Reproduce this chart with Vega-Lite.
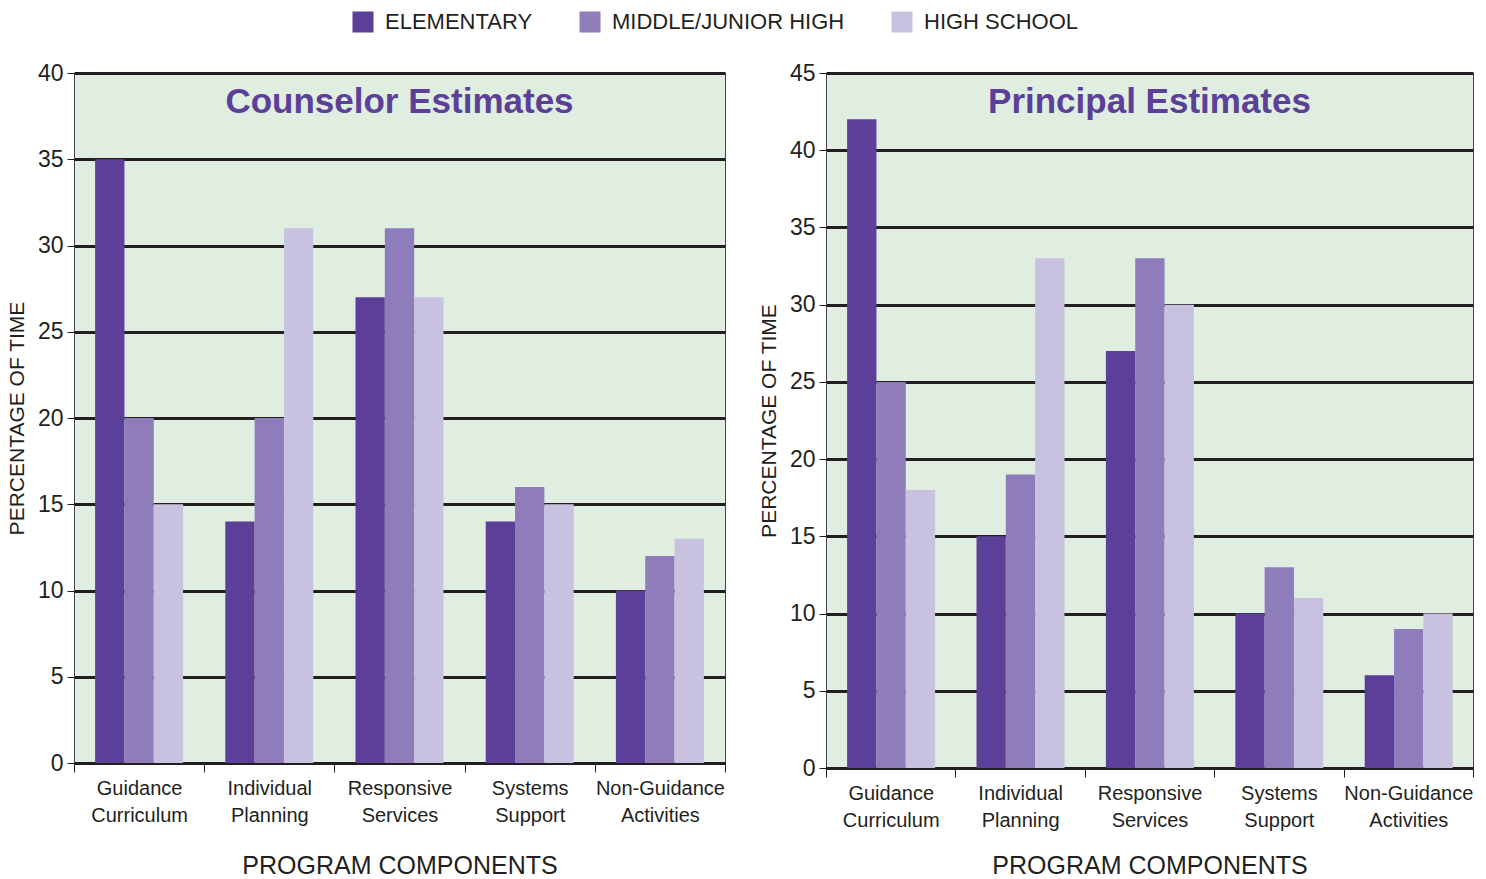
{
  "$schema": "https://vega.github.io/schema/vega-lite/v6.json",
  "background": "white",
  "padding": {"left": 5, "top": 11, "right": 5, "bottom": 0},
  "spacing": 31,
  "data": {"values": [
    {"panel": "C", "component": "Guidance|Curriculum", "level": "ELEMENTARY", "value": 35},
    {"panel": "C", "component": "Guidance|Curriculum", "level": "MIDDLE/JUNIOR HIGH", "value": 20},
    {"panel": "C", "component": "Guidance|Curriculum", "level": "HIGH SCHOOL", "value": 15},
    {"panel": "C", "component": "Individual|Planning", "level": "ELEMENTARY", "value": 14},
    {"panel": "C", "component": "Individual|Planning", "level": "MIDDLE/JUNIOR HIGH", "value": 20},
    {"panel": "C", "component": "Individual|Planning", "level": "HIGH SCHOOL", "value": 31},
    {"panel": "C", "component": "Responsive|Services", "level": "ELEMENTARY", "value": 27},
    {"panel": "C", "component": "Responsive|Services", "level": "MIDDLE/JUNIOR HIGH", "value": 31},
    {"panel": "C", "component": "Responsive|Services", "level": "HIGH SCHOOL", "value": 27},
    {"panel": "C", "component": "Systems|Support", "level": "ELEMENTARY", "value": 14},
    {"panel": "C", "component": "Systems|Support", "level": "MIDDLE/JUNIOR HIGH", "value": 16},
    {"panel": "C", "component": "Systems|Support", "level": "HIGH SCHOOL", "value": 15},
    {"panel": "C", "component": "Non-Guidance|Activities", "level": "ELEMENTARY", "value": 10},
    {"panel": "C", "component": "Non-Guidance|Activities", "level": "MIDDLE/JUNIOR HIGH", "value": 12},
    {"panel": "C", "component": "Non-Guidance|Activities", "level": "HIGH SCHOOL", "value": 13},
    {"panel": "P", "component": "Guidance|Curriculum", "level": "ELEMENTARY", "value": 42},
    {"panel": "P", "component": "Guidance|Curriculum", "level": "MIDDLE/JUNIOR HIGH", "value": 25},
    {"panel": "P", "component": "Guidance|Curriculum", "level": "HIGH SCHOOL", "value": 18},
    {"panel": "P", "component": "Individual|Planning", "level": "ELEMENTARY", "value": 15},
    {"panel": "P", "component": "Individual|Planning", "level": "MIDDLE/JUNIOR HIGH", "value": 19},
    {"panel": "P", "component": "Individual|Planning", "level": "HIGH SCHOOL", "value": 33},
    {"panel": "P", "component": "Responsive|Services", "level": "ELEMENTARY", "value": 27},
    {"panel": "P", "component": "Responsive|Services", "level": "MIDDLE/JUNIOR HIGH", "value": 33},
    {"panel": "P", "component": "Responsive|Services", "level": "HIGH SCHOOL", "value": 30},
    {"panel": "P", "component": "Systems|Support", "level": "ELEMENTARY", "value": 10},
    {"panel": "P", "component": "Systems|Support", "level": "MIDDLE/JUNIOR HIGH", "value": 13},
    {"panel": "P", "component": "Systems|Support", "level": "HIGH SCHOOL", "value": 11},
    {"panel": "P", "component": "Non-Guidance|Activities", "level": "ELEMENTARY", "value": 6},
    {"panel": "P", "component": "Non-Guidance|Activities", "level": "MIDDLE/JUNIOR HIGH", "value": 9},
    {"panel": "P", "component": "Non-Guidance|Activities", "level": "HIGH SCHOOL", "value": 10}
  ]},
  "hconcat": [
    {
      "width": 651,
      "height": 690,
      "title": {"text": "Counselor Estimates", "offset": -58},
      "transform": [{"filter": "datum.panel === 'C'"}],
      "mark": {"type": "bar"},
      "encoding": {
        "x": {"field": "component", "type": "nominal", "sort": null,
              "scale": {"paddingInner": 0, "paddingOuter": 0},
              "axis": {"titlePadding": 28},
              "title": "PROGRAM COMPONENTS"},
        "xOffset": {"field": "level", "type": "nominal", "sort": ["ELEMENTARY", "MIDDLE/JUNIOR HIGH", "HIGH SCHOOL"],
                    "scale": {"paddingInner": 0, "paddingOuter": 0.72}},
        "y": {"field": "value", "type": "quantitative",
              "scale": {"domain": [0, 40], "nice": false},
              "axis": {"values": [0, 5, 10, 15, 20, 25, 30, 35, 40]},
              "title": "PERCENTAGE OF TIME"},
        "color": {"field": "level", "type": "nominal",
                  "sort": ["ELEMENTARY", "MIDDLE/JUNIOR HIGH", "HIGH SCHOOL"],
                  "scale": {"domain": ["ELEMENTARY", "MIDDLE/JUNIOR HIGH", "HIGH SCHOOL"], "range": ["#5B3F98", "#8E7CBB", "#C8C1E0"]},
                  "legend": {"orient": "none", "legendX": 278, "legendY": -62, "direction": "horizontal"},
                  "title": null}
      }
    },
    {
      "width": 647,
      "height": 695,
      "title": {"text": "Principal Estimates", "offset": -58},
      "transform": [{"filter": "datum.panel === 'P'"}],
      "mark": {"type": "bar"},
      "encoding": {
        "x": {"field": "component", "type": "nominal", "sort": null,
              "scale": {"paddingInner": 0, "paddingOuter": 0},
              "axis": {"titlePadding": 23},
              "title": "PROGRAM COMPONENTS"},
        "xOffset": {"field": "level", "type": "nominal", "sort": ["ELEMENTARY", "MIDDLE/JUNIOR HIGH", "HIGH SCHOOL"],
                    "scale": {"paddingInner": 0, "paddingOuter": 0.79}},
        "y": {"field": "value", "type": "quantitative",
              "scale": {"domain": [0, 45], "nice": false},
              "axis": {"values": [0, 5, 10, 15, 20, 25, 30, 35, 40, 45]},
              "title": "PERCENTAGE OF TIME"},
        "color": {"field": "level", "type": "nominal",
                  "sort": ["ELEMENTARY", "MIDDLE/JUNIOR HIGH", "HIGH SCHOOL"],
                  "scale": {"domain": ["ELEMENTARY", "MIDDLE/JUNIOR HIGH", "HIGH SCHOOL"], "range": ["#5B3F98", "#8E7CBB", "#C8C1E0"]},
                  "legend": {"orient": "none", "legendX": 278, "legendY": -62, "direction": "horizontal"},
                  "title": null}
      }
    }
  ],
  "config": {
    "view": {"fill": "#DFEEE0", "stroke": "#444444", "strokeWidth": 1},
    "title": {"font": "Liberation Sans", "fontSize": 35, "fontWeight": "bold", "color": "#5B3F98", "anchor": "middle", "baseline": "bottom"},
    "axisY": {
      "grid": true, "gridColor": "#231F20", "gridWidth": 3, "gridOpacity": 1,
      "domain": false,
      "ticks": true, "tickSize": 7, "tickColor": "#231F20", "tickWidth": 1,
      "labelFont": "Liberation Sans",
      "labelFontSize": 23, "labelColor": "#231F20", "labelPadding": 4,
      "titleFont": "Liberation Sans", "titleFontSize": 21, "titleFontWeight": "normal", "titleColor": "#231F20", "titlePadding": 10
    },
    "axisX": {
      "grid": false, "domain": true, "domainColor": "#231F20", "domainWidth": 2,
      "ticks": true, "tickBand": "extent", "tickSize": 9, "tickColor": "#231F20", "tickWidth": 1,
      "labelAngle": 0, "labelExpr": "split(datum.label, '|')",
      "labelFont": "Liberation Sans",
      "labelFontSize": 20, "labelLineHeight": 27, "labelColor": "#231F20", "labelPadding": 6, "labelBaseline": "top",
      "titleFont": "Liberation Sans", "titleFontSize": 25, "titleFontWeight": "normal", "titleColor": "#231F20"
    },
    "legend": {
      "symbolType": "square", "symbolSize": 441, "symbolStrokeWidth": 0, "symbolOpacity": 1,
      "labelFont": "Liberation Sans",
      "labelFontSize": 22, "labelColor": "#231F20", "labelOffset": 11, "columnPadding": 46, "labelLimit": 400
    }
  }
}
